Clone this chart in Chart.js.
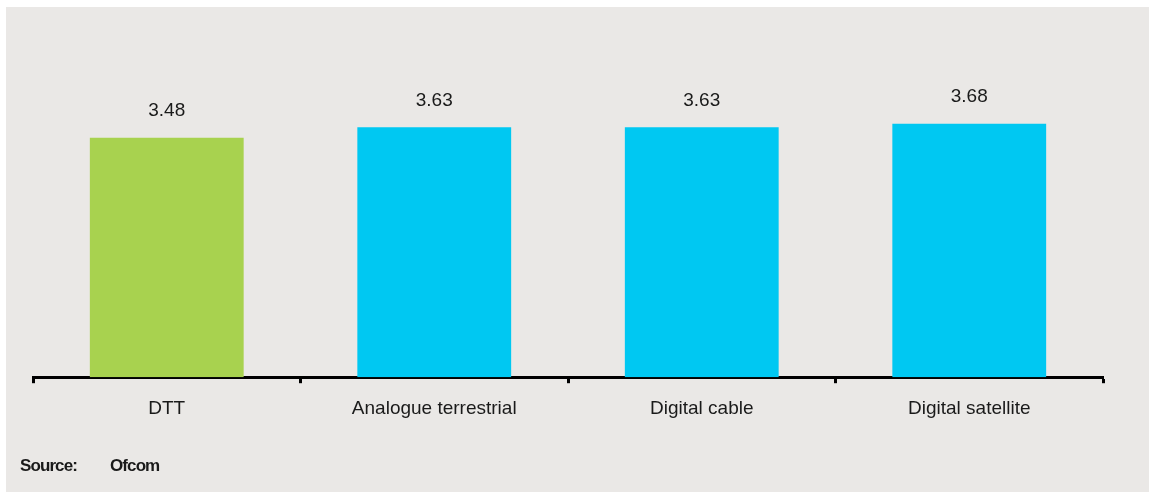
<!DOCTYPE html>
<html>
<head>
<meta charset="utf-8">
<script src="https://cdn.jsdelivr.net/npm/chart.js@4"></script>
<style>
  html, body { margin: 0; padding: 0; background: #ffffff; }
  #wrap { position: relative; width: 1149px; height: 492px; }
</style>
</head>
<body>
<div id="wrap"><canvas id="platformChart" width="1149" height="492"></canvas></div>
<script>
const categories = ['DTT', 'Analogue terrestrial', 'Digital cable', 'Digital satellite'];
const values = [3.48, 3.63, 3.63, 3.68];
const barColours = ['#a8d24f', '#00c8f2', '#00c8f2', '#00c8f2'];

// grey panel, value labels and source line
const extras = {
    id: 'extras',
    beforeDraw(chart) {
        const c = chart.ctx;
        c.save();
        c.fillStyle = '#eae8e6';
        c.fillRect(6, 7, chart.width - 6, chart.height - 7);
        c.restore();
    },
    afterDatasetsDraw(chart) {
        const c = chart.ctx;
        const meta = chart.getDatasetMeta(0);
        c.save();
        c.fillStyle = '#1a1a1a';
        c.font = '19px "Liberation Sans", Arial, sans-serif';
        c.textAlign = 'center';
        c.textBaseline = 'middle';
        meta.data.forEach((bar, i) => {
            c.fillText(values[i].toFixed(2), bar.x, bar.y - 27);
        });
        c.textAlign = 'left';
        c.font = 'bold 17px "Liberation Sans", sans-serif';
        c.letterSpacing = '-0.9px';
        c.fillStyle = '#1a1a1a';
        c.fillText('Source:', 20, 466);
        c.fillText('Ofcom', 110, 466);
        c.restore();
    }
};

const ctx = document.getElementById('platformChart').getContext('2d');
const platformChart = new Chart(ctx, {
    type: 'bar',
    data: {
        labels: categories,
        datasets: [{
            data: values,
            backgroundColor: barColours,
            borderWidth: 0,
            barPercentage: 0.575,
            categoryPercentage: 1
        }]
    },
    options: {
        responsive: false,
        animation: false,
        layout: { padding: { left: 33, right: 46, top: 33, bottom: 58 } },
        plugins: { legend: { display: false }, tooltip: { enabled: false } },
        scales: {
            x: {
                offset: true,
                border: { display: true, color: '#000', width: 3 },
                grid: {
                    offset: true,
                    drawOnChartArea: false,
                    drawTicks: true,
                    tickLength: 6,
                    tickWidth: 3,
                    color: '#000'
                },
                ticks: {
                    color: '#1a1a1a',
                    padding: 14,
                    font: { family: '"Liberation Sans", Arial, sans-serif', size: 19 }
                }
            },
            y: {
                display: false,
                min: 0,
                max: 5
            }
        }
    },
    plugins: [extras]
});
</script>
</body>
</html>
